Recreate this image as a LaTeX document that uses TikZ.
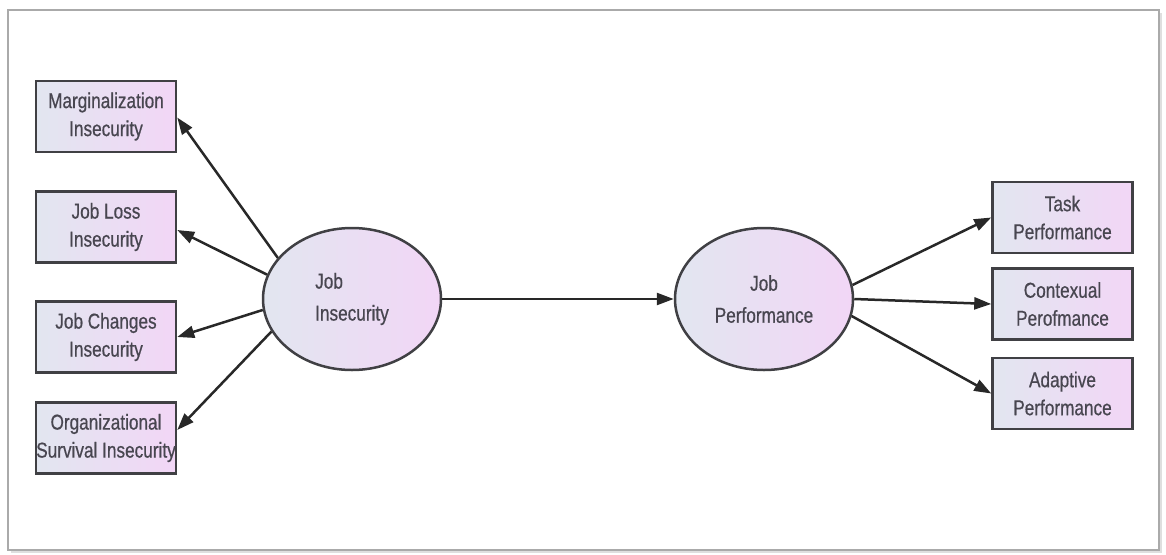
\documentclass[tikz,border=0pt]{standalone}
\usepackage{fontspec}
\newfontfamily\narfont[FakeStretch=0.8,FakeBold=0.6]{Liberation Sans}
\usetikzlibrary{arrows.meta,shapes.geometric}
\definecolor{fillL}{RGB}{226,230,240}
\definecolor{fillR}{RGB}{242,214,246}
\definecolor{edgeC}{RGB}{64,64,68}
\definecolor{txtC}{RGB}{72,70,80}
\definecolor{lineC}{RGB}{40,40,40}
\definecolor{frameC}{RGB}{170,170,170}
\tikzset{
  ind/.style={draw=edgeC, line width=2.5pt, left color=fillL, right color=fillR,
    minimum width=140pt, minimum height=71pt, inner sep=0pt, align=center,
    text=txtC, font=\narfont\fontsize{21.5}{28}\selectfont},
  lat/.style={draw=edgeC, line width=2.5pt, ellipse, left color=fillL, right color=fillR,
    minimum width=178pt, minimum height=142pt, inner sep=0pt,
    text=txtC, font=\narfont\fontsize{21.5}{32}\selectfont},
  conn/.style={draw=lineC, line width=2.5pt, -{Triangle[length=17pt,width=12pt]}}
}
\begin{document}
\begin{tikzpicture}[x=1pt,y=-1pt]
\useasboundingbox (0,0) rectangle (1166,554);
% frame with shadow
\fill[gray!25] (11,548) rectangle (1162,553);
\fill[gray!25] (1157,13) rectangle (1162,553);
\draw[frameC, line width=1.5pt, fill=white] (8,10) rectangle (1159,550);
% indicators
\node[ind] (m1) at (106,116.5) {Marginalization\\Insecurity};
\node[ind] (m2) at (106,227) {Job Loss\\Insecurity};
\node[ind] (m3) at (106,337) {Job Changes\\Insecurity};
\node[ind] (m4) at (106,438) {Organizational\\Survival Insecurity};
\node[ind] (t1) at (1062.5,217.5) {Task\\Performance};
\node[ind] (t2) at (1062.5,304) {Contexual\\Perofmance};
\node[ind] (t3) at (1062.5,393.5) {Adaptive\\Performance};
% latent variables
\node[lat, align=left] (ji) at (352,299) {Job\\Insecurity};
\node[lat, align=center] (jp) at (764,299) {Job\\Performance};
% connectors
\draw[conn] (ji.151) -- ([yshift=-1pt]m1.east);
\draw[conn] (ji.164) -- ([yshift=-3pt]m2.east);
\draw[conn] (ji.187) -- (m3.east);
\draw[conn] (ji.202) -- ([yshift=8pt]m4.east);
\draw[conn] (ji.east) -- (jp.west);
\draw[conn] (jp.9) -- (t1.west);
\draw[conn] (jp.east) -- (t2.west);
\draw[conn] (jp.-11) -- (t3.west);
\end{tikzpicture}
\end{document}
